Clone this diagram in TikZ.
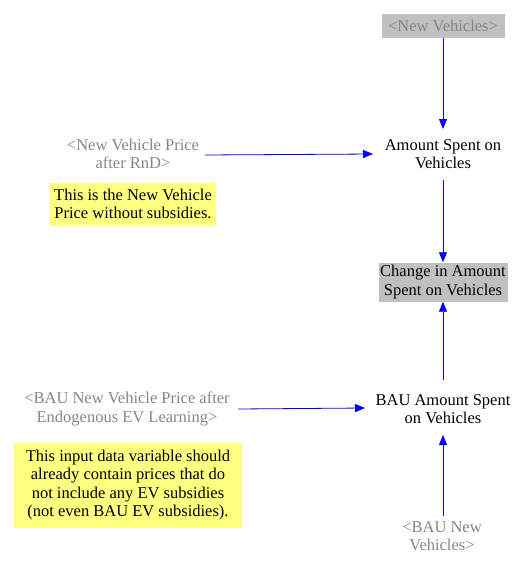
\documentclass[tikz,border=0pt]{standalone}
\usepackage{fontspec}
\setmainfont{Liberation Serif}
\usetikzlibrary{arrows.meta}
\definecolor{boxgray}{HTML}{C0C0C0}
\definecolor{txtgray}{HTML}{858585}
\definecolor{noteyellow}{HTML}{FFFF80}
\begin{document}
\begin{tikzpicture}[x=1pt,y=-1pt,
  every node/.style={font=\fontsize{16.5}{18.5}\selectfont, align=center, inner sep=1pt},
  var/.style={text=black},
  shadow/.style={text=txtgray},
  grayvar/.style={fill=boxgray, text=black},
  grayshadow/.style={fill=boxgray, text=txtgray},
  note/.style={fill=noteyellow, text=black, inner sep=0pt},
  link/.style={draw=blue, line width=0.8pt, -{Triangle[length=10pt,width=8pt]}}
]
\useasboundingbox (0,0) rectangle (525,570);
\node[grayshadow, minimum width=123pt, minimum height=24pt] (nv) at (443,26) {<New Vehicles>};
\node[var] (asv) at (443,154) {Amount Spent on\\Vehicles};
\node[shadow] (nvp) at (133,154) {<New Vehicle Price\\after RnD>};
\node[note, minimum width=166pt, minimum height=43pt] (n1) at (133,204) {This is the New Vehicle\\Price without subsidies.};
\node[grayvar, minimum width=129pt, minimum height=39pt] (chg) at (443,282) {Change in Amount\\Spent on Vehicles};
\node[var] (basv) at (443,409) {BAU Amount Spent\\on Vehicles};
\node[shadow] (bnvp) at (127,409) {<BAU New Vehicle Price after\\Endogenous EV Learning>};
\node[note, minimum width=228pt, minimum height=85pt] (n2) at (128,485) {This input data variable should\\already contain prices that do\\not include any EV subsidies\\(not even BAU EV subsidies).};
\node[shadow] (bnv) at (442,536) {<BAU New\\Vehicles>};
\coordinate (a1e) at (443,129);
\coordinate (a2s) at (205,155); \coordinate (a2e) at (373,154);
\coordinate (a3s) at (443,180);
\coordinate (a4s) at (443,380);
\coordinate (a5s) at (238,409); \coordinate (a5e) at (365,408);
\coordinate (a6s) at (443,516); \coordinate (a6e) at (443,435);
\draw[link] (nv.south) -- (a1e);
\draw[link] (a2s) -- (a2e);
\draw[link] (a3s) -- (chg.north);
\draw[link] (a4s) -- (chg.south);
\draw[link] (a5s) -- (a5e);
\draw[link] (a6s) -- (a6e);
\end{tikzpicture}
\end{document}
